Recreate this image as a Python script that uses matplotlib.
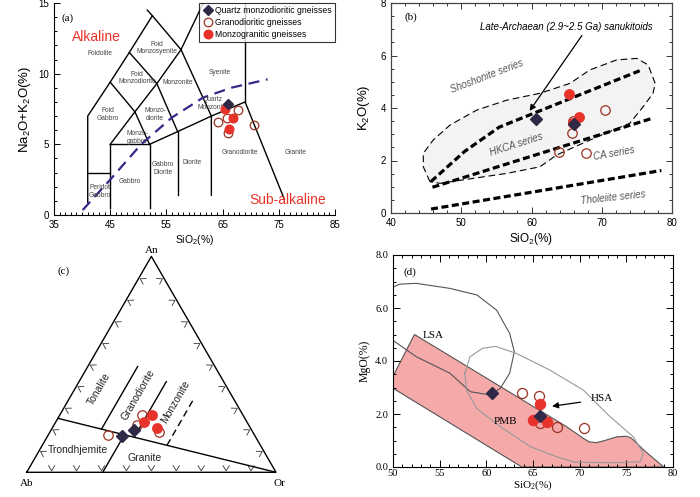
import numpy as np
import matplotlib
matplotlib.use('Agg')
import matplotlib.pyplot as plt
from matplotlib.ticker import MultipleLocator, FormatStrFormatter
from matplotlib.lines import Line2D

SANS = 'Liberation Sans'
SERIF = 'Liberation Serif'
plt.rcParams['font.family'] = SANS

RED = '#e8332b'
BROWN = '#9a3323'
NAVY = '#2f2947'

# --- (a) TAS data
a_qmd_sio2 = [66.0]
a_qmd_alk = [7.86]
a_gd_sio2 = [64.1, 65.7, 67.8, 65.9, 70.6]
a_gd_alk = [6.6, 6.84, 7.43, 5.78, 6.37]
a_mg_sio2 = [65.4, 66.8, 66.2]
a_mg_alk = [7.48, 6.89, 6.06]

# --- (b) K2O-SiO2 data
b_qmd_sio2 = [60.7, 66.0]
b_qmd_k2o = [3.6, 3.38]
b_gd_sio2 = [70.5, 65.8, 63.9, 67.7, 65.9]
b_gd_k2o = [3.92, 3.04, 2.34, 2.30, 3.5]
b_mg_sio2 = [65.3, 66.7, 65.9]
b_mg_k2o = [4.52, 3.67, 3.44]

# --- (c) An-Ab-Or data (%)
c_qmd_an = [16.8, 19.7]
c_qmd_ab = [53.5, 47.3]
c_qmd_or = [29.7, 33.0]
c_gd_an = [26.7, 21.7, 17.2, 18.7]
c_gd_ab = [40.5, 45.0, 58.7, 37.4]
c_gd_or = [32.8, 33.3, 24.1, 43.9]
c_mg_an = [26.7, 23.4, 20.3]
c_mg_ab = [36.2, 41.2, 37.4]
c_mg_or = [37.1, 35.4, 42.3]

# --- (d) MgO-SiO2 data
d_qmd_sio2 = [60.6, 65.8]
d_qmd_mgo = [2.78, 1.94]
d_gd_sio2 = [63.8, 65.6, 65.7, 67.6, 70.5]
d_gd_mgo = [2.80, 2.68, 1.65, 1.52, 1.46]
d_mg_sio2 = [65.8, 65.0, 66.5]
d_mg_mgo = [2.38, 1.77, 1.71]

# TAS field boundaries (Middlemost)
tas_lines = [
    [(41, 0.9), (41, 7), (45, 9.4), (48.4, 11.5), (52.5, 14.1), (57.6, 11.7), (63, 7), (63, 1.4)],
    [(51.6, 14.5), (52.5, 14.1)],
    [(57.6, 11.7), (63, 16.2)],
    [(41, 3), (45, 3)],
    [(45, 0.5), (45, 5), (52, 5), (52, 0.5)],
    [(45, 5), (49.4, 7.3), (52, 5)],
    [(45, 9.4), (49.4, 7.3), (53.3, 9.3), (57.6, 11.7)],
    [(48.4, 11.5), (53.3, 9.3), (57, 5.9)],
    [(52, 5), (57, 5.9), (63, 7), (69, 8), (76, 1.1)],
    [(57, 5.9), (57, 1.4)],
    [(69, 8), (69, 17)],
]
ib_sio2 = [40.1, 45, 50.5, 56, 61.5, 66.5, 73]
ib_alk = [0.35, 2.5, 5.0, 6.9, 8.3, 9.0, 9.6]
tas_names = [
    ('Foidolite', 43.2, 11.4), ('Foid\nMonzosyenite', 53.3, 11.8), ('Foid\nMonzodiorite', 49.8, 9.7),
    ('Monzonite', 57.1, 9.4), ('Syenite', 64.5, 10.1), ('Quartz\nMonzonite', 63.3, 7.9),
    ('Foid\nGabbro', 44.6, 7.1), ('Monzo-\ndiorite', 53.0, 7.1), ('Monzo-\ngabbro', 49.8, 5.5),
    ('Gabbro\nDiorite', 54.4, 3.3), ('Diorite', 59.5, 3.7), ('Granodiorite', 68.1, 4.4),
    ('Granite', 77.9, 4.4), ('Gabbro', 48.5, 2.35), ('Peridot\nGabbro', 43.1, 1.65),
]

# K2O-SiO2 series boundaries
thol_sio2 = [45.7, 78.5]
thol_k2o = [0.15, 1.62]
ca_sio2 = [45.9, 77.1]
ca_k2o = [0.98, 3.6]
hk_sio2 = [45.7, 50.5, 55.4, 75.4]
hk_k2o = [1.2, 2.35, 3.27, 5.42]
san_sio2 = [45.55, 44.6, 44.6, 46.0, 48.4, 52.2, 56.5, 61.2, 65.5, 68.3, 72.1, 75.0, 76.6, 77.6,
            77.3, 75.9, 74.0, 70.2, 66.4, 63.6, 61.2, 56.5, 51.7, 47.0, 45.55]
san_k2o = [1.19, 1.76, 2.27, 2.78, 3.35, 3.92, 4.3, 4.56, 4.94, 5.45, 5.83, 5.89, 5.64, 4.94,
           4.56, 4.05, 3.42, 3.0, 2.55, 2.21, 1.76, 1.51, 1.32, 1.13, 1.19]

# MgO-SiO2 fields
pmb_sio2 = [52.3, 49.5, 63.8, 79.0, 77.0, 75.5, 75.0, 74.0, 72.5, 71.8, 71.0, 70.4, 68.6]
pmb_mgo = [5.0, 3.08, 0.0, 0.0, 0.6, 1.1, 1.16, 1.14, 0.98, 0.92, 0.95, 1.08, 1.52]
lsa_sio2 = [49.5, 50.7, 52.5, 56.1, 59.0, 61.1, 62.5, 63.0, 62.5, 61.5, 60.4, 58.3, 57.7, 56.1, 52.5, 49.5]
lsa_mgo = [6.7, 6.9, 6.93, 6.74, 6.49, 5.92, 5.04, 4.35, 3.54, 2.97, 2.72, 2.84, 3.03, 3.54, 4.16, 4.9]
hsa_sio2 = [57.7, 58.25, 59.6, 61.0, 63.2, 66.8, 70.4, 73.25, 75.75, 76.8, 76.5, 74.0, 69.5, 67.5,
            64.7, 61.5, 59.0, 57.86, 57.7]
hsa_mgo = [3.54, 4.16, 4.48, 4.55, 4.29, 3.66, 2.9, 1.9, 1.14, 0.52, 0.2, 0.16, 0.18, 0.39,
           0.77, 1.52, 2.2, 2.9, 3.54]

fig = plt.figure(figsize=(7, 4.97), dpi=100)

def style_markers(ax, qx, qy, gx, gy, mx, my, ms):
    ax.plot(gx, gy, 'o', ms=ms, mfc='none', mec=BROWN, mew=0.9, zorder=4)
    ax.plot(mx, my, 'o', ms=ms, mfc=RED, mec=RED, zorder=5)
    ax.plot(qx, qy, 'D', ms=ms * 0.85, mfc=NAVY, mec=NAVY, zorder=6)

# ---------------- (a)
ax = fig.add_axes([54 / 700, 1 - 215 / 497, 281 / 700, 212 / 497])
for seg in tas_lines:
    xs, ys = zip(*seg)
    ax.plot(xs, ys, color='black', lw=1.0, zorder=2)
ax.plot(ib_sio2, ib_alk, color='#35288a', lw=1.6, dashes=(5, 3), zorder=3)
for name, x, y in tas_names:
    ax.text(x, y, name, fontsize=4.8, color='#444444', ha='center', va='center', linespacing=1.1)
style_markers(ax, a_qmd_sio2, a_qmd_alk, a_gd_sio2, a_gd_alk, a_mg_sio2, a_mg_alk, 6.2)
ax.text(42.6, 12.6, 'Alkaline', color=RED, fontsize=10, ha='center', va='center')
ax.text(76.5, 1.06, 'Sub-alkaline', color=RED, fontsize=10, ha='center', va='center')
ax.text(37.5, 13.9, '(a)', family=SERIF, fontsize=8, ha='center', va='center')
ax.set_xlim(35, 85)
ax.set_ylim(0, 15)
ax.set_xticks([35, 45, 55, 65, 75, 85])
ax.set_yticks([0, 5, 10, 15])
ax.xaxis.set_minor_locator(MultipleLocator(1))
ax.yaxis.set_minor_locator(MultipleLocator(1))
ax.tick_params(which='both', direction='in', labelsize=7, width=0.7)
ax.tick_params(which='major', length=4)
ax.tick_params(which='minor', length=2.2)
ax.spines['top'].set_visible(False)
ax.spines['right'].set_visible(False)
ax.set_xlabel('SiO$\\mathregular{_2}$(%)', fontsize=7.5, labelpad=2)
ax.set_ylabel('Na$\\mathregular{_2}$O+K$\\mathregular{_2}$O(%)', fontsize=9.5, labelpad=4)
handles = [
    Line2D([], [], ls='none', marker='D', ms=5.5, mfc=NAVY, mec=NAVY),
    Line2D([], [], ls='none', marker='o', ms=6.2, mfc='none', mec=BROWN, mew=0.9),
    Line2D([], [], ls='none', marker='o', ms=6.2, mfc=RED, mec=RED),
]
leg = ax.legend(handles, ['Quartz monzodioritic gneisses', 'Granodioritic gneisses', 'Monzogranitic gneisses'],
                loc='upper right', bbox_to_anchor=(1.0, 1.0), fontsize=6.2, frameon=True, fancybox=False,
                borderaxespad=0, handletextpad=0.3, borderpad=0.35, labelspacing=0.35, handlelength=1.2)
leg.get_frame().set_edgecolor('black')
leg.get_frame().set_linewidth(0.8)
leg.set_zorder(10)

# ---------------- (b)
ax = fig.add_axes([391 / 700, 1 - 213 / 497, 281 / 700, 210 / 497])
ax.fill(san_sio2, san_k2o, color='#f3f3f3', zorder=1)
ax.plot(san_sio2, san_k2o, color='black', lw=0.8, dashes=(6, 3.5), zorder=2)
for xs, ys in [(thol_sio2, thol_k2o), (ca_sio2, ca_k2o), (hk_sio2, hk_k2o)]:
    ax.plot(xs, ys, color='black', lw=2.3, dashes=(2.2, 1.1), zorder=3)
style_markers(ax, b_qmd_sio2, b_qmd_k2o, b_gd_sio2, b_gd_k2o, b_mg_sio2, b_mg_k2o, 6.8)
ax.annotate('', xy=(59.5, 3.8), xytext=(67.4, 6.85),
            arrowprops=dict(arrowstyle='-|>', color='black', lw=0.9, mutation_scale=9))
ax.text(65.0, 7.1, 'Late-Archaean (2.9~2.5 Ga) sanukitoids', style='italic', fontsize=7, ha='center', va='center')
ax.text(53.6, 5.22, 'Shoshonite series', style='italic', fontsize=7, color='#555555', rotation=21, ha='center', va='center')
ax.text(57.9, 2.6, 'HKCA series', style='italic', fontsize=7, color='#555555', rotation=18, ha='center', va='center')
ax.text(71.8, 2.27, 'CA series', style='italic', fontsize=7, color='#555555', rotation=10, ha='center', va='center')
ax.text(71.6, 0.6, 'Tholeiite series', style='italic', fontsize=7, color='#555555', rotation=6, ha='center', va='center')
ax.text(42.9, 7.45, '(b)', family=SERIF, fontsize=8, ha='center', va='center')
ax.set_xlim(40, 80)
ax.set_ylim(0, 8)
ax.set_xticks([40, 50, 60, 70, 80])
ax.set_yticks([0, 2, 4, 6, 8])
ax.xaxis.set_minor_locator(MultipleLocator(2))
ax.yaxis.set_minor_locator(MultipleLocator(0.5))
ax.tick_params(which='both', direction='in', top=True, right=True, labelsize=7, width=0.7, colors='#333333',
               labelcolor='black')
ax.tick_params(which='major', length=4)
ax.tick_params(which='minor', length=2.2)
for s in ax.spines.values():
    s.set_color('#444444')
    s.set_linewidth(0.9)
ax.set_xlabel('SiO$\\mathregular{_2}$(%)', fontsize=8.5, labelpad=2)
ax.set_ylabel('K$\\mathregular{_2}$O(%)', fontsize=9.5, labelpad=6)

# ---------------- (c)
H = np.sqrt(3) / 2

def tern(an, ab, orr):
    an, ab, orr = np.asarray(an, float), np.asarray(ab, float), np.asarray(orr, float)
    tot = an + ab + orr
    return (orr + an / 2) / tot, an / tot * H

ax = fig.add_axes([26.7 / 700, 1 - 472.3 / 497, 249.3 / 700, 249.3 * H / 497])
ax.set_xlim(0, 1)
ax.set_ylim(0, H)
ax.axis('off')
ax.plot([0, 1, 0.5, 0], [0, 0, H, 0], color='black', lw=1.0, clip_on=False)
# chevron ticks along edges
corners = [np.array([0, 0]), np.array([1, 0]), np.array([0.5, H])]
centroid = np.array([0.5, H / 3])
for i in range(3):
    p0, p1 = corners[i], corners[(i + 1) % 3]
    t = (p1 - p0) / np.linalg.norm(p1 - p0)
    n = np.array([-t[1], t[0]])
    if np.dot(centroid - p0, n) < 0:
        n = -n
    for k in range(1, 10):
        p = p0 + (p1 - p0) * k / 10 + n * 0.006
        a = 0.024
        arm1 = p + a * (n * np.cos(0.55) + t * np.sin(0.55))
        arm2 = p + a * (n * np.cos(0.55) - t * np.sin(0.55))
        ax.plot([arm1[0], p[0], arm2[0]], [arm1[1], p[1], arm2[1]], color='#333333', lw=0.6, clip_on=False)
# field boundaries
mx, my = tern([25, 0], [75, 0], [0, 100])
ax.plot(mx, my, color='black', lw=1.0)
for orr, an_lo, an_hi, ls in [(30.5, 0, 17.4, '-'), (20, 20, 49, '-'), (35, 16.3, 42, '-'), (50, 12.5, 34.5, '--')]:
    bx, by = tern([an_lo, an_hi], [100 - orr - an_lo, 100 - orr - an_hi], [orr, orr])
    ax.plot(bx, by, color='black', lw=1.0, ls=ls, dashes=(5, 3) if ls == '--' else (None, None))
gx, gy = tern(c_gd_an, c_gd_ab, c_gd_or)
rx, ry = tern(c_mg_an, c_mg_ab, c_mg_or)
qx, qy = tern(c_qmd_an, c_qmd_ab, c_qmd_or)
style_markers(ax, qx, qy, gx, gy, rx, ry, 6.8)
ax.text(0.291, 0.333, 'Tonalite', rotation=60, fontsize=7.5, ha='center', va='center', color='#222222')
ax.text(0.448, 0.310, 'Granodiorite', rotation=60, fontsize=7.5, ha='center', va='center', color='#222222')
ax.text(0.598, 0.283, 'Monzonite', rotation=60, fontsize=7.5, ha='center', va='center', color='#222222')
ax.text(0.207, 0.089, 'Trondhjemite', fontsize=7.5, ha='center', va='center', color='#222222')
ax.text(0.475, 0.056, 'Granite', fontsize=7.5, ha='center', va='center', color='#222222')
ax.text(0.147, 0.805, '(c)', family=SERIF, fontsize=8, ha='center', va='center')
ax.text(0.5, H + 0.025, 'An', family=SERIF, fontsize=8, ha='center', va='center', clip_on=False)
ax.text(0.0, -0.045, 'Ab', family=SERIF, fontsize=8, ha='center', va='center', clip_on=False)
ax.text(1.015, -0.045, 'Or', family=SERIF, fontsize=8, ha='center', va='center', clip_on=False)

# ---------------- (d)
ax = fig.add_axes([393 / 700, 1 - 467 / 497, 280 / 700, 212 / 497])
ax.fill(pmb_sio2, pmb_mgo, facecolor='#f5a9a9', edgecolor='#555555', lw=0.8, zorder=1)
ax.plot(lsa_sio2, lsa_mgo, color='#555555', lw=0.8, zorder=2)
ax.plot(hsa_sio2, hsa_mgo, color='#999999', lw=0.8, zorder=2)
style_markers(ax, d_qmd_sio2, d_qmd_mgo, d_gd_sio2, d_gd_mgo, d_mg_sio2, d_mg_mgo, 7.2)
ax.annotate('', xy=(66.75, 2.28), xytext=(70.4, 2.46),
            arrowprops=dict(arrowstyle='-|>', color='black', lw=0.9, mutation_scale=9))
ax.text(72.4, 2.6, 'HSA', family=SERIF, fontsize=8, ha='center', va='center')
ax.text(54.3, 4.98, 'LSA', family=SERIF, fontsize=8, ha='center', va='center')
ax.text(62.0, 1.7, 'PMB', family=SERIF, fontsize=8, ha='center', va='center')
ax.text(51.8, 7.35, '(d)', family=SERIF, fontsize=8, ha='center', va='center')
ax.set_xlim(50, 80)
ax.set_ylim(0, 8)
ax.set_xticks([50, 55, 60, 65, 70, 75, 80])
ax.set_yticks([0, 2, 4, 6, 8])
ax.yaxis.set_major_formatter(FormatStrFormatter('%.1f'))
ax.xaxis.set_minor_locator(MultipleLocator(1))
ax.yaxis.set_minor_locator(MultipleLocator(0.5))
ax.tick_params(which='both', direction='in', top=True, right=True, labelsize=7.5, width=0.7)
ax.tick_params(which='major', length=5)
ax.tick_params(which='minor', length=2.5)
ax.tick_params(axis='x', which='major', pad=1.5)
for lab in ax.get_xticklabels() + ax.get_yticklabels():
    lab.set_family(SERIF)
ax.set_xlabel('SiO$\\mathregular{_2}$(%)', family=SERIF, fontsize=8, labelpad=0.5)
ax.set_ylabel('MgO(%)', family=SERIF, fontsize=8.5, labelpad=3)

fig.savefig('out.png', dpi=100)
